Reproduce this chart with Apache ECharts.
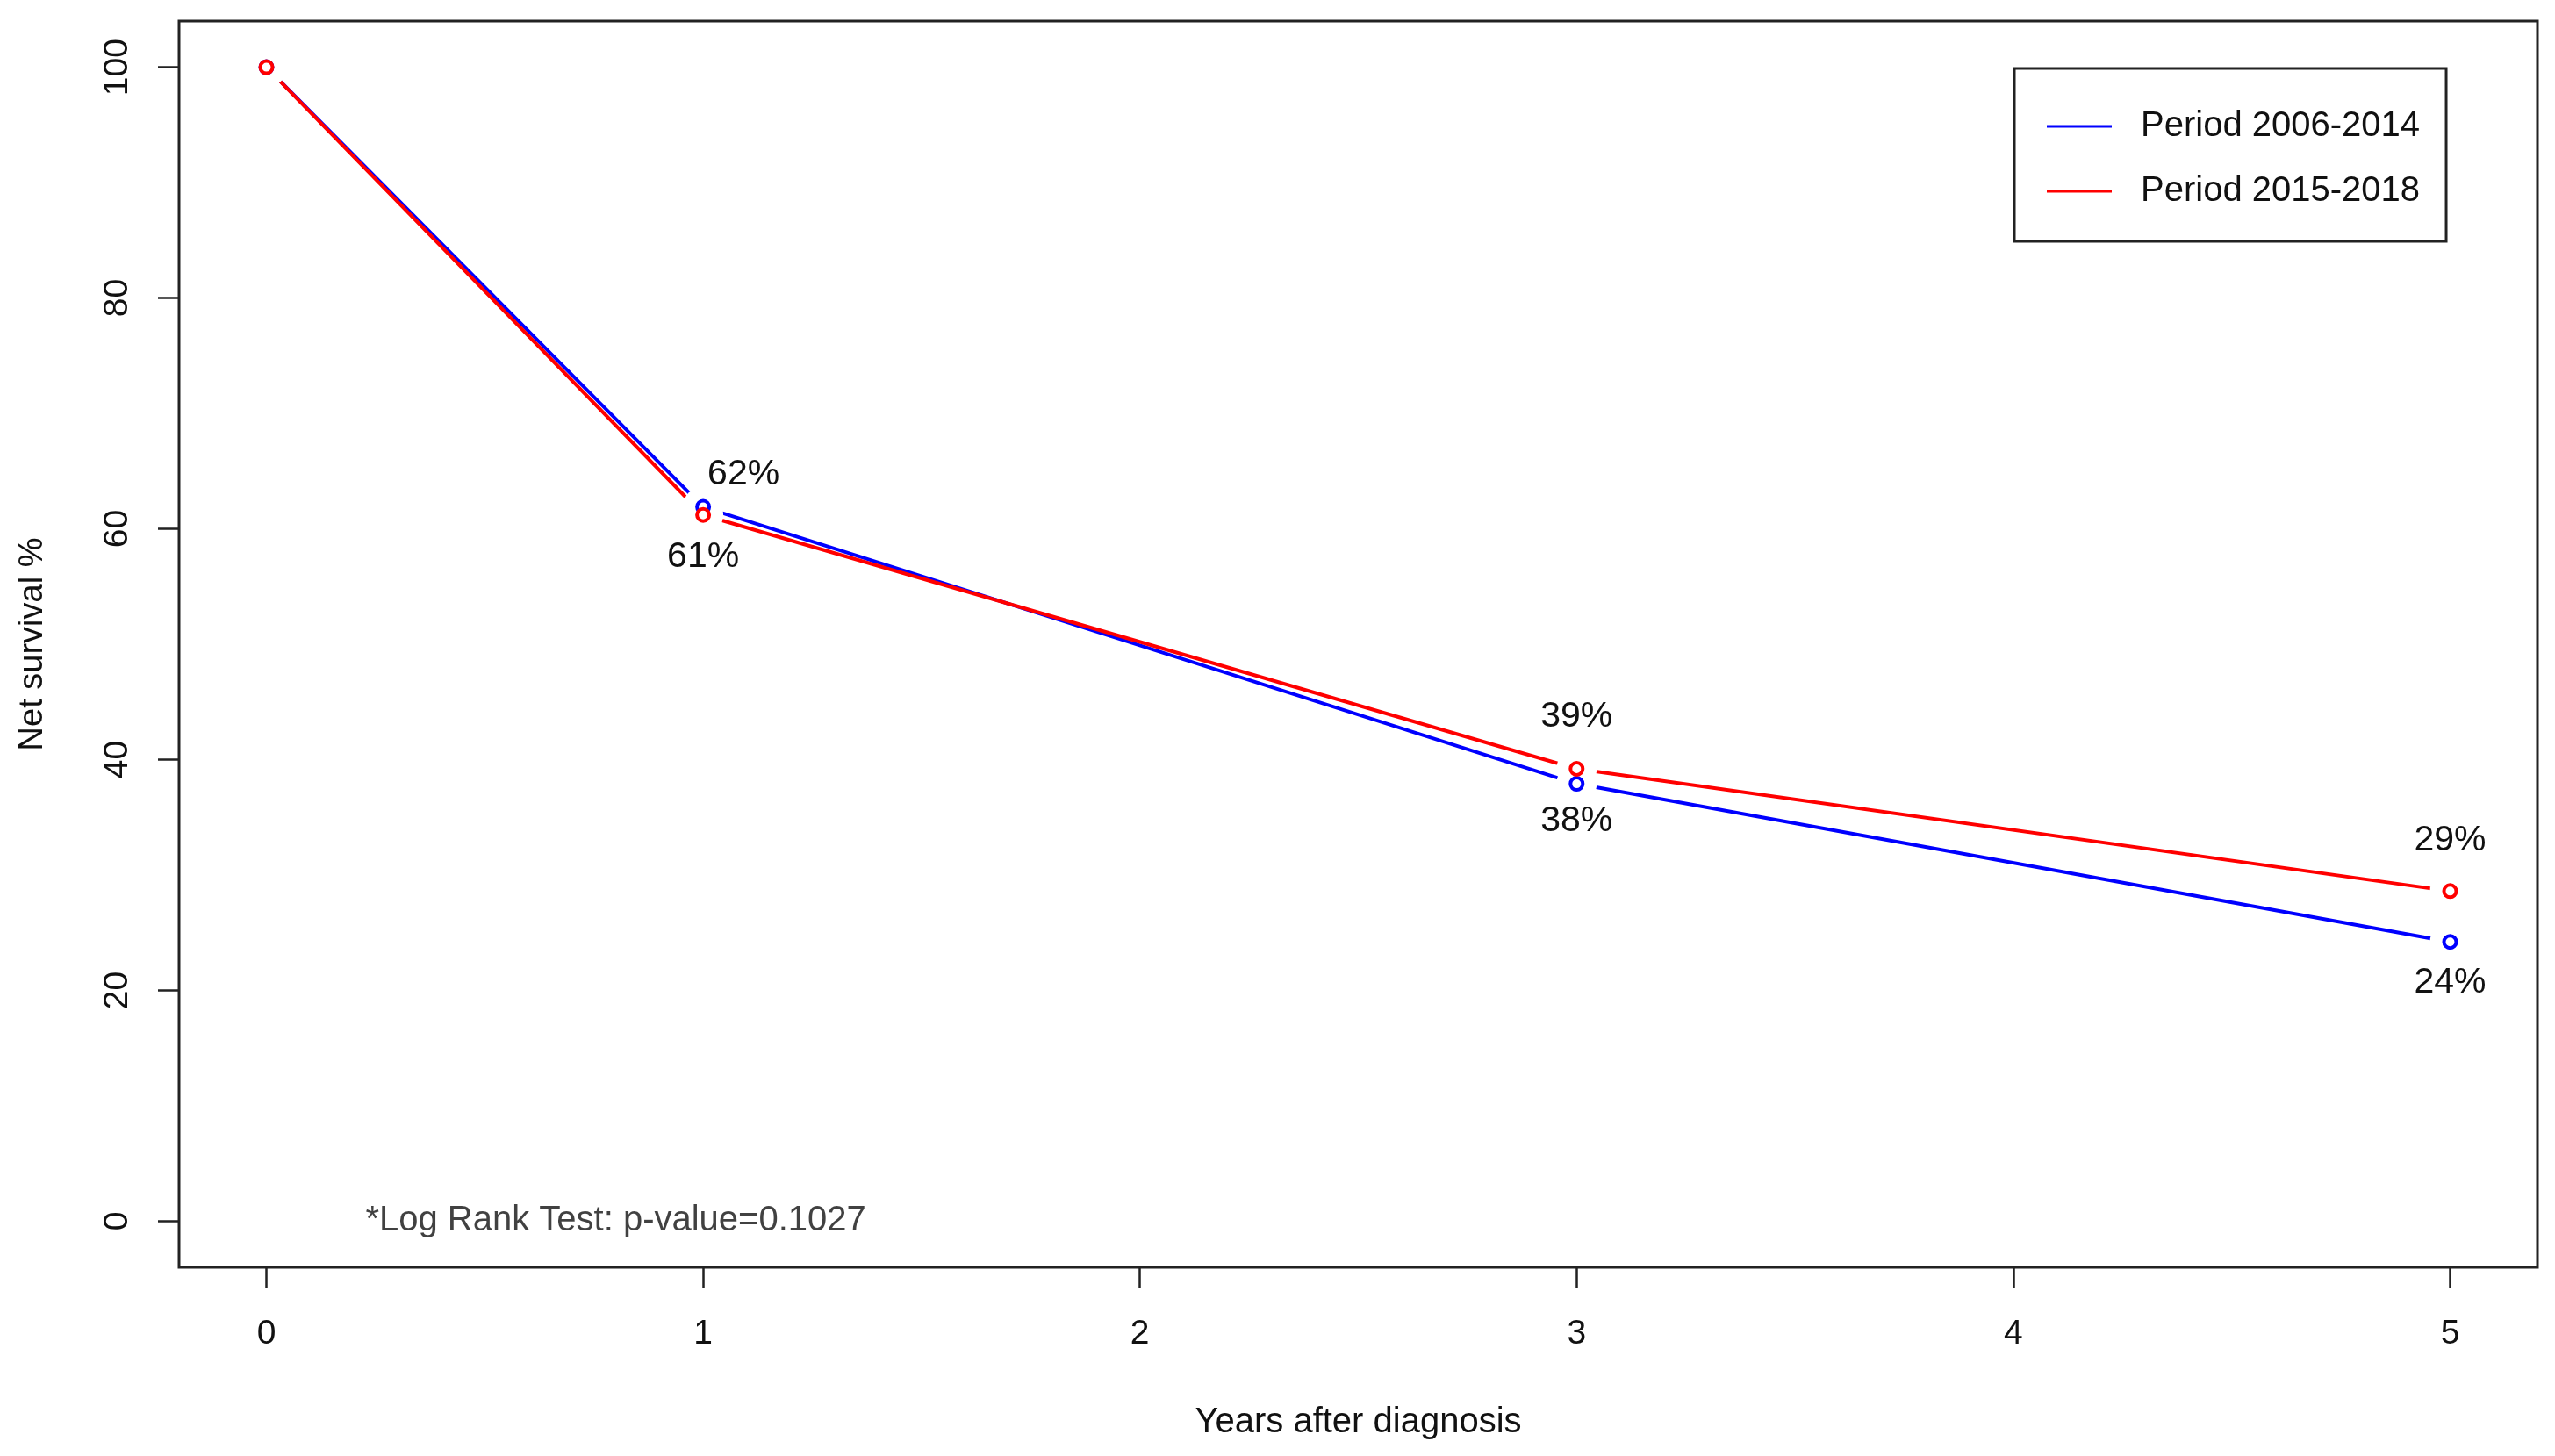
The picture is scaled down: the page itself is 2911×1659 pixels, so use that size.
<!DOCTYPE html>
<html><head><meta charset="utf-8">
<script src="https://cdn.jsdelivr.net/npm/echarts@6/dist/echarts.min.js"></script>
<style>html,body{margin:0;padding:0;background:#fff}#c{width:2911px;height:1659px}</style>
</head><body><div id="c"></div>
<script>
// ---- data ----
var years = [0, 1, 3, 5];
var period1Name = 'Period 2006-2014';
var period2Name = 'Period 2015-2018';
var period1 = [100, 61.9, 37.9, 24.2];
var period2 = [100, 61.2, 39.2, 28.6];
var period1Labels = ['', '62%', '38%', '24%'];
var period2Labels = ['', '61%', '39%', '29%'];
var xTicks = [0, 1, 2, 3, 4, 5];
var yTicks = [0, 20, 40, 60, 80, 100];
var noteText = '*Log Rank Test: p-value=0.1027';
var notePos = [0.8, 0];

// ---- styling ----
var FONT = 'Liberation Sans, Arial, sans-serif';
var BLUE = '#0000FF', RED = '#FF0000';
var p1LabelPlace = [null, {position:'top', distance:7, offset:[46,0]}, {position:'bottom', distance:13, offset:[0,0]}, {position:'bottom', distance:17, offset:[0,0]}];
var p2LabelPlace = [null, {position:'bottom', distance:18, offset:[0,0]}, {position:'top', distance:30, offset:[0,0]}, {position:'top', distance:28, offset:[0,0]}];

function pairs(ys){ return years.map(function(x,i){ return [x, ys[i]]; }); }
function markerData(ys, labels, place){
  return years.map(function(x,i){
    var item = {value:[x, ys[i]]};
    if (labels[i]) {
      item.label = {show:true, formatter: labels[i], position: place[i].position,
        distance: place[i].distance, offset: place[i].offset,
        fontSize: 41, color:'#111', fontFamily: FONT};
    }
    return item;
  });
}

var chart = echarts.init(document.getElementById('c'), null, {renderer:'canvas'});
var option = {
  animation: false,
  backgroundColor: '#fff',
  grid: {left: 204, top: 24, right: 20, bottom: 215, show: true, borderColor: '#222', borderWidth: 3,
         backgroundColor:'#fff', containLabel: false, outerBoundsMode: 'none'},
  xAxis: {
    type: 'value', min: -0.2, max: 5.2,
    name: 'Years after diagnosis', nameLocation: 'middle', nameGap: 157,
    nameTextStyle: {fontSize: 40, color: '#111', fontFamily: FONT},
    axisLine: {show: false, onZero: false},
    axisTick: {show: true, customValues: xTicks, length: 24, lineStyle: {color: '#222', width: 2.5}},
    axisLabel: {customValues: xTicks, fontSize: 39, color: '#111', fontFamily: FONT, margin: 57},
    splitLine: {show: false}
  },
  yAxis: {
    type: 'value', min: -4, max: 104,
    name: 'Net survival %', nameLocation: 'middle', nameGap: 147,
    nameTextStyle: {fontSize: 38, color: '#111', fontFamily: FONT},
    axisLine: {show: false, onZero: false},
    axisTick: {show: true, customValues: yTicks, length: 24, lineStyle: {color: '#222', width: 2.5}},
    axisLabel: {customValues: yTicks, rotate: 90, fontSize: 39, color: '#111', fontFamily: FONT, margin: 50},
    splitLine: {show: false}
  },
  legend: {
    data: [period1Name, period2Name],
    orient: 'vertical', left: 2295, top: 78,
    padding: [46, 30, 37, 37], itemGap: 34,
    itemWidth: 74, itemHeight: 3, icon: 'rect',
    borderColor: '#222', borderWidth: 3, backgroundColor: '#fff',
    textStyle: {fontSize: 40, color: '#111', fontFamily: FONT, padding: [0, 0, 0, 28]}
  },
  series: [
    {name: period1Name, type: 'line', data: pairs(period1), showSymbol: false, symbol: 'none',
     lineStyle: {color: BLUE, width: 4}, itemStyle: {color: BLUE}, z: 2},
    {name: period2Name, type: 'line', data: pairs(period2), showSymbol: false, symbol: 'none',
     lineStyle: {color: RED, width: 4}, itemStyle: {color: RED}, z: 2},
    {name: 'gap1', type: 'scatter', data: pairs(period1), symbol: 'circle', symbolSize: 46,
     itemStyle: {color: '#ffffff', opacity: 1}, z: 10, silent: true},
    {name: 'gap2', type: 'scatter', data: pairs(period2), symbol: 'circle', symbolSize: 46,
     itemStyle: {color: '#ffffff', opacity: 1}, z: 10, silent: true},
    {name: 'pts1', type: 'scatter', data: markerData(period1, period1Labels, p1LabelPlace),
     symbol: 'circle', symbolSize: 14, itemStyle: {color: '#fff', borderColor: BLUE, borderWidth: 4, opacity: 1}, z: 11},
    {name: 'pts2', type: 'scatter', data: markerData(period2, period2Labels, p2LabelPlace),
     symbol: 'circle', symbolSize: 14, itemStyle: {color: '#fff', borderColor: RED, borderWidth: 4, opacity: 1}, z: 12},
    {name: 'note', type: 'scatter', data: [notePos], symbolSize: 0, z: 13, silent: true,
     label: {show: true, position: 'inside', formatter: noteText, fontSize: 40, color: '#111', fontFamily: FONT}}
  ]
};
chart.setOption(option);
</script>
</body></html>
